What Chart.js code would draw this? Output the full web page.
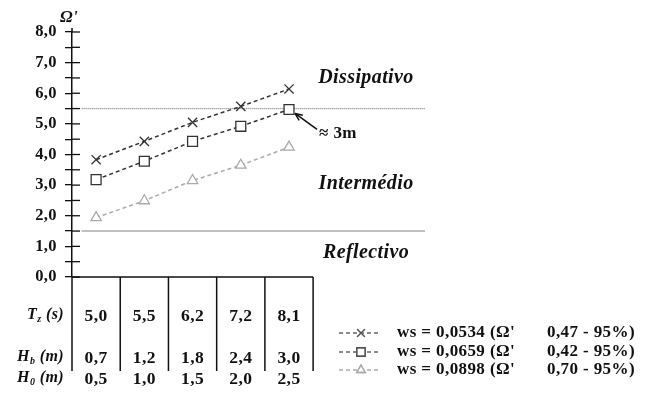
<!DOCTYPE html>
<html>
<head>
<meta charset="utf-8">
<script src="https://cdn.jsdelivr.net/npm/chart.js@4.4.0/dist/chart.umd.min.js"></script>
<style>
  html, body { margin: 0; background: #fff; }
  #wrap { width: 659px; height: 398px; }
</style>
</head>
<body>
<div id="wrap"><canvas id="grafico"></canvas></div>
<script>
// Dados
const colPos = [0.5, 1.5, 2.5, 3.5, 4.5];
const tzLabels = ["5,0", "5,5", "6,2", "7,2", "8,1"];
const hbLabels = ["0,7", "1,2", "1,8", "2,4", "3,0"];
const h0Labels = ["0,5", "1,0", "1,5", "2,0", "2,5"];
const ws0534 = [3.83, 4.43, 5.05, 5.57, 6.14];
const ws0659 = [3.18, 3.78, 4.43, 4.92, 5.47];
const ws0898 = [1.94, 2.49, 3.15, 3.65, 4.24];
const yTicks = [0, 0.5, 1, 1.5, 2, 2.5, 3, 3.5, 4, 4.5, 5, 5.5, 6, 6.5, 7, 7.5, 8];
const seriesNames = ["ws = 0,0534 (Ω'", "ws = 0,0659 (Ω'", "ws = 0,0898 (Ω'"];
const seriesRanges = ["0,47 - 95%)", "0,42 - 95%)", "0,70 - 95%)"];
const limites = [5.5, 1.5];
const zonas = ["Dissipativo", "Intermédio", "Reflectivo"];

const FONTE = "'Liberation Serif', 'Times New Roman', serif";
const X_MAX = 7.32;

function serie(label, valores, cor, estilo, raio) {
  return {
    label: label,
    data: colPos.map((x, i) => ({ x: x, y: valores[i] })),
    borderColor: cor,
    borderWidth: 1.5,
    borderDash: [4, 3],
    pointStyle: estilo,
    pointRadius: raio,
    pointBorderColor: cor,
    pointBorderWidth: 1.3,
    pointBackgroundColor: "#fff",
    backgroundColor: "#fff",
    fill: false,
  };
}

function eixoTabela(labels, altura, pad) {
  return {
    type: "linear",
    position: "bottom",
    min: 0,
    max: X_MAX,
    border: { display: false },
    grid: { display: false, drawTicks: false },
    afterBuildTicks: (s) => { s.ticks = colPos.map((v) => ({ value: v })); },
    afterFit: (s) => { s.height = altura; },
    ticks: {
      autoSkip: false,
      maxRotation: 0,
      padding: pad,
      color: "#111",
      font: { family: FONTE, size: 17.5, weight: "bold" },
      callback: (v, i) => labels[i],
    },
  };
}

// texto com subscrito (T_z (s))
function rotulo(ctx, base, sub, resto, xDir, y) {
  const fG = "italic bold 16px " + FONTE;
  const fP = "italic bold 10px " + FONTE;
  ctx.font = fG; const w1 = ctx.measureText(base).width;
  const w3 = ctx.measureText(resto).width;
  ctx.font = fP; const w2 = ctx.measureText(sub).width;
  let x = xDir - (w1 + w2 + w3);
  ctx.textAlign = "left";
  ctx.textBaseline = "middle";
  ctx.font = fG; ctx.fillText(base, x, y); x += w1;
  ctx.font = fP; ctx.fillText(sub, x, y + 4); x += w2;
  ctx.font = fG; ctx.fillText(resto, x, y);
}

const extras = {
  id: "extras",
  beforeDraw(chart) {
    chart.ctx.letterSpacing = "0.4px";
  },
  beforeDatasetsDraw(chart) {
    const { ctx, chartArea } = chart;
    const xs = chart.scales.x, ys = chart.scales.y;
    ctx.save();
    // linhas de limite
    limites.forEach((v, i) => {
      const py = ys.getPixelForValue(v);
      ctx.beginPath();
      ctx.strokeStyle = i === 0 ? "#777" : "#aaa";
      ctx.lineWidth = i === 0 ? 1.2 : 1.6;
      ctx.setLineDash(i === 0 ? [1, 1] : []);
      ctx.moveTo(xs.getPixelForValue(0.2), py);
      ctx.lineTo(chartArea.right, py);
      ctx.stroke();
    });
    ctx.restore();
  },
  afterDraw(chart) {
    const { ctx, chartArea } = chart;
    const xs = chart.scales.x, ys = chart.scales.y;
    const x2 = chart.scales.x2, x3 = chart.scales.x3;
    ctx.save();
    ctx.strokeStyle = "#111";
    ctx.fillStyle = "#111";
    ctx.setLineDash([]);

    // prolongamento do eixo y e marcas para dentro
    ctx.lineWidth = 1.5;
    ctx.beginPath();
    ctx.moveTo(chartArea.left, chartArea.top - 4);
    ctx.lineTo(chartArea.left, chartArea.top);
    ctx.stroke();
    ctx.lineWidth = 1.3;
    ys.ticks.forEach((t) => {
      const py = ys.getPixelForValue(t.value);
      ctx.beginPath();
      ctx.moveTo(chartArea.left, py);
      ctx.lineTo(chartArea.left + 8, py);
      ctx.stroke();
    });

    // tabela
    const fundo = x3.top + 4;
    ctx.lineWidth = 1.5;
    ctx.beginPath();
    ctx.moveTo(xs.getPixelForValue(0), chartArea.bottom);
    ctx.lineTo(xs.getPixelForValue(5), chartArea.bottom);
    for (let i = 0; i <= 5; i++) {
      const px = xs.getPixelForValue(i);
      ctx.moveTo(px, chartArea.bottom);
      ctx.lineTo(px, fundo);
    }
    ctx.stroke();

    const xDir = chartArea.left - 8;
    rotulo(ctx, "T", "z", " (s)", xDir, xs.top + 38);
    rotulo(ctx, "H", "b", " (m)", xDir, x2.top + 20);
    rotulo(ctx, "H", "0", " (m)", xDir, x3.top + 11);

    // titulo do eixo
    ctx.font = "italic bold 17px " + FONTE;
    ctx.textAlign = "left";
    ctx.textBaseline = "middle";
    ctx.fillText("Ω'", chartArea.left - 12, 18);

    // zonas
    ctx.font = "italic bold 20px " + FONTE;
    ctx.letterSpacing = "0.4px";
    ctx.textAlign = "center";
    const cx = 366;
    ctx.fillText(zonas[0], cx, ys.getPixelForValue(6.5));
    ctx.fillText(zonas[1], cx, ys.getPixelForValue(3.05));
    ctx.fillText(zonas[2], cx, ys.getPixelForValue(0.78));

    // seta ≈ 3m
    const ax = xs.getPixelForValue(colPos[4]) + 6;
    const ay = ys.getPixelForValue(ws0659[4]) + 4;
    const bx = ax + 22, by = ay + 16;
    ctx.lineWidth = 1.5;
    ctx.beginPath();
    ctx.moveTo(bx, by);
    ctx.lineTo(ax, ay);
    ctx.stroke();
    const ang = Math.atan2(ay - by, ax - bx);
    ctx.beginPath();
    ctx.moveTo(ax, ay);
    ctx.lineTo(ax - 8 * Math.cos(ang - 0.4), ay - 8 * Math.sin(ang - 0.4));
    ctx.moveTo(ax, ay);
    ctx.lineTo(ax - 8 * Math.cos(ang + 0.4), ay - 8 * Math.sin(ang + 0.4));
    ctx.stroke();
    ctx.font = "bold 17px " + FONTE;
    ctx.textAlign = "left";
    ctx.fillText("≈ 3m", bx + 2, by + 4);

    // legenda
    const linhas = [333, 352, 370];
    chart.data.datasets.forEach((ds, i) => {
      const y = linhas[i];
      ctx.strokeStyle = i === 2 ? "#aaa" : "#666";
      ctx.lineWidth = 1.3;
      ctx.setLineDash([4, 3]);
      ctx.beginPath();
      ctx.moveTo(339, y);
      ctx.lineTo(381, y);
      ctx.stroke();
      ctx.setLineDash([]);
      ctx.fillStyle = "#fff";
      Chart.helpers.drawPoint(ctx, {
        pointStyle: ds.pointStyle,
        radius: ds.pointRadius - 1,
        borderWidth: 1.2,
      }, 361, y);
      ctx.strokeStyle = i === 2 ? "#aaa" : "#555";
      ctx.stroke();
      ctx.fillStyle = "#111";
      ctx.font = "bold 17px " + FONTE;
      ctx.letterSpacing = "0.4px";
      ctx.textAlign = "left";
      ctx.fillText(ds.label, 397, y);
      ctx.fillText(seriesRanges[i], 547, y);
    });
    ctx.restore();
  },
};

new Chart(document.getElementById("grafico"), {
  type: "line",
  data: {
    datasets: [
      serie(seriesNames[0], ws0534, "#333", "crossRot", 6.5),
      serie(seriesNames[1], ws0659, "#333", "rect", 7),
      serie(seriesNames[2], ws0898, "#aaa", "triangle", 6),
    ],
  },
  options: {
    responsive: true,
    maintainAspectRatio: false,
    animation: false,
    layout: { padding: { top: 32, right: 234, left: 0, bottom: 0 } },
    plugins: { legend: { display: false }, tooltip: { enabled: false } },
    scales: {
      x: eixoTabela(tzLabels, 60, 29),
      x2: eixoTabela(hbLabels, 30, 11),
      x3: eixoTabela(h0Labels, 31, 2),
      y: {
        min: 0,
        max: 8,
        afterBuildTicks: (s) => { s.ticks = yTicks.map((v) => ({ value: v })); },
        afterFit: (s) => { s.width = 72; },
        border: { color: "#111", width: 1.5 },
        grid: { drawOnChartArea: false, color: "#111", lineWidth: 1.3, tickLength: 7 },
        ticks: {
          autoSkip: false,
          padding: 8,
          color: "#111",
          font: { family: FONTE, size: 16.5, weight: "bold" },
          callback: (v) => (Number.isInteger(v) ? v.toFixed(1).replace(".", ",") : ""),
        },
      },
    },
  },
  plugins: [extras],
});
</script>
</body>
</html>
